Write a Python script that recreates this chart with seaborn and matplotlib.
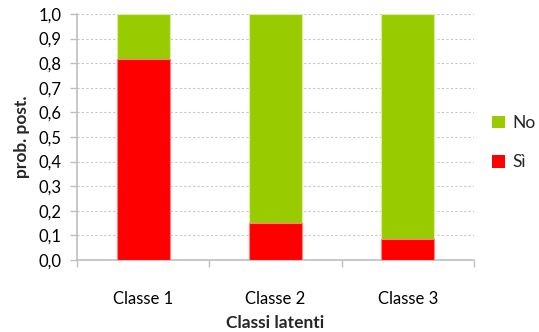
import matplotlib
matplotlib.use("Agg")
import matplotlib.pyplot as plt
import matplotlib.ticker as mticker
from matplotlib.patches import Patch
import seaborn as sns
import pandas as pd

classes = ["Classe 1", "Classe 2", "Classe 3"]
prob_si = [0.817, 0.152, 0.084]
prob_no = [1 - v for v in prob_si]
series_labels = ["No", "Sì"]
green = "#99CC00"
red = "#FF0000"

sns.set_theme(style="white")
plt.rcParams["font.family"] = ["Lato", "DejaVu Sans"]

df = pd.DataFrame({"classe": classes, "si": prob_si, "no": prob_no})
df["totale"] = df["si"] + df["no"]

fig = plt.figure(figsize=(5.39, 3.32), dpi=100)
ax = fig.add_axes([0.143, 0.217, 0.736, 0.741])

# stacked bars: full height in green, lower "Sì" part in red over it
sns.barplot(data=df, x="classe", y="totale", color=green, width=0.4,
            saturation=1, edgecolor="#d9f0a0", linewidth=0.8, ax=ax, zorder=3)
sns.barplot(data=df, x="classe", y="si", color=red, width=0.4,
            saturation=1, edgecolor="#ff8080", linewidth=0.8, ax=ax, zorder=4)

ax.set_ylim(0, 1.0)
ax.set_xlim(-0.5, 2.5)
ax.yaxis.set_major_locator(mticker.MultipleLocator(0.1))
ax.yaxis.set_major_formatter(mticker.FuncFormatter(lambda v, p: f"{v:.1f}".replace(".", ",")))
ax.grid(axis="y", color="#c8c8c8", linestyle=(0, (2, 2)), linewidth=0.8, zorder=0)
ax.set_axisbelow(True)

for s in ["top", "right"]:
    ax.spines[s].set_visible(False)
ax.spines["left"].set_color("#bfbfbf")
ax.spines["bottom"].set_color("#bfbfbf")
ax.spines["left"].set_linewidth(1.2)
ax.spines["bottom"].set_linewidth(1.2)

ax.tick_params(axis="y", which="both", left=True, length=5, width=1, color="#bfbfbf",
               labelsize=12, labelcolor="#000000", pad=6)
# x ticks sit at the category boundaries
ax.set_xticks([-0.5, 0.5, 1.5, 2.5], minor=False)
ax.set_xticklabels([])
ax.set_xticks([0, 1, 2], minor=True)
ax.set_xticklabels(classes, minor=True)
ax.tick_params(axis="x", which="major", bottom=True, length=5, width=1, color="#bfbfbf")
ax.tick_params(axis="x", which="minor", bottom=False, length=0, labelsize=12, pad=22,
               labelcolor="#000000")

ax.set_xlabel("Classi latenti", fontsize=12.5, fontweight="bold", labelpad=6)
ax.set_ylabel("prob. post.", fontsize=12.5, fontweight="bold", labelpad=6)

handles = [Patch(facecolor=green, edgecolor="none"), Patch(facecolor=red, edgecolor="none")]
fig.legend(handles, series_labels, loc="center left", bbox_to_anchor=(0.912, 0.57),
           frameon=False, borderaxespad=0, borderpad=0, fontsize=12.5,
           handlelength=0.75, handleheight=0.75, handletextpad=0.45, labelspacing=1.35)

fig.savefig("out.png", dpi=100)
